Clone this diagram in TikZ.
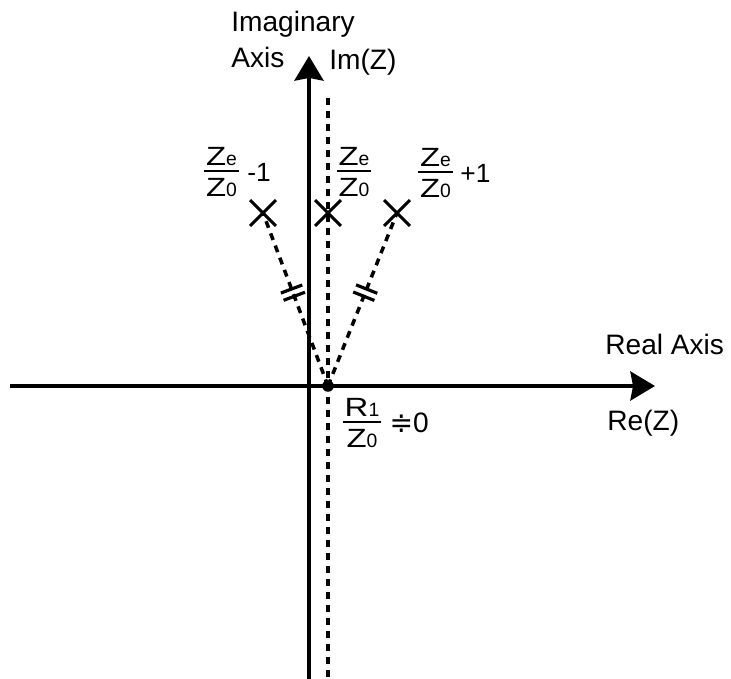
\documentclass[tikz,border=0pt]{standalone}
\usepackage{amsmath,amssymb}
\usepackage{fontspec}
\setmainfont{Liberation Sans}
\newfontfamily\widefont[FakeStretch=1.25]{Liberation Sans}
\newfontfamily\symfont{DejaVu Sans}
\usetikzlibrary{arrows.meta,calc,positioning,shapes.misc,decorations.markings}

\newcommand{\zsub}[1]{{\rmfamily\fontsize{11}{11}\selectfont #1}}
\newcommand{\zfrac}[2]{\ensuremath{\vcenter{\offinterlineskip
	\halign{\hfil\kern1pt##\kern1pt\hfil\cr #1\cr
		\noalign{\kern2.3pt\hrule height 1.1pt\kern3.4pt}#2\cr}}}}

\begin{document}
\begin{tikzpicture}[x=0.02cm, y=-0.02cm,
	>={Stealth[length=14pt, width=16.5pt, inset=1.5pt]},
	axis/.style={line width=2pt, ->},
	guide/.style={line width=2pt, dash pattern=on 4pt off 3.4pt},
	pole/.style={cross out, draw, line width=1.7pt, minimum size=13pt, inner sep=0pt},
	lbl/.style={font=\fontsize{16}{19}\selectfont, inner sep=0pt},
	fraclbl/.style={font=\widefont\fontsize{15}{15}\selectfont, inner sep=0pt},
	suflbl/.style={font=\fontsize{15}{17}\selectfont, inner sep=0pt},
	ticks/.style={postaction={decorate}, decoration={markings, mark=at position 0.54 with
		{\draw[solid, line width=1.8pt] (-2.2pt,-6.5pt) -- (-2.2pt,6.5pt) (2.2pt,-6.5pt) -- (2.2pt,6.5pt);}}}]
	
	\useasboundingbox (0,0) rectangle (731,679);
	
	\coordinate (O) at (328,386);
	\coordinate (imBot) at (309,679);
	\coordinate (imTop) at (309,56);
	\coordinate (reLeft) at (10,386);
	\coordinate (reRight) at (655,386);
	\coordinate (dotTop) at (328,98);
	\coordinate (dotBot) at (328,679);
	
	% axes
	\draw[axis] (imBot) -- (imTop);
	\draw[axis] (reLeft) -- (reRight);
	\draw[guide] (dotTop) -- (dotBot);
	
	% poles
	\node[pole] (xL) at (263,213) {};
	\node[pole] (xC) at (328,213) {};
	\node[pole] (xR) at (397,213) {};
	
	\draw[guide, ticks] (O) -- (xL.center);
	\draw[guide, ticks] (O) -- (xR.center);
	
	\fill (O) circle (3.3pt);
	
	% axis labels
	\node[lbl, anchor=base west] (lblImag) at (231,32) {Imaginary};
	\node[lbl, anchor=base west] (lblAxis) at (231,68) {Axis};
	\node[lbl, anchor=base west] (lblIm) at (329,70) {Im(Z)};
	\node[lbl, anchor=base west] (lblReal) at (605,355) {Real Axis};
	\node[lbl, anchor=base west] (lblRe) at (607,430) {Re(Z)};
	
	% pole labels
	\node[fraclbl] (fracL) at (221.5,172) {\zfrac{Z\zsub{e}}{Z\zsub{0}}};
	\node[suflbl, right=4.5pt of fracL] (sufL) {-1};
	\node[fraclbl] (fracC) at (354,172) {\zfrac{Z\zsub{e}}{Z\zsub{0}}};
	\node[fraclbl] (fracR) at (435.5,173) {\zfrac{Z\zsub{e}}{Z\zsub{0}}};
	\node[suflbl, right=4pt of fracR] (sufR) {+1};
	\node[fraclbl] (fracO) at (362,423) {\zfrac{R\zsub{1}}{Z\zsub{0}}};
	\node[lbl, right=4.5pt of fracO] (sufO) {{\symfont ≑}0};
	
\end{tikzpicture}
\end{document}
